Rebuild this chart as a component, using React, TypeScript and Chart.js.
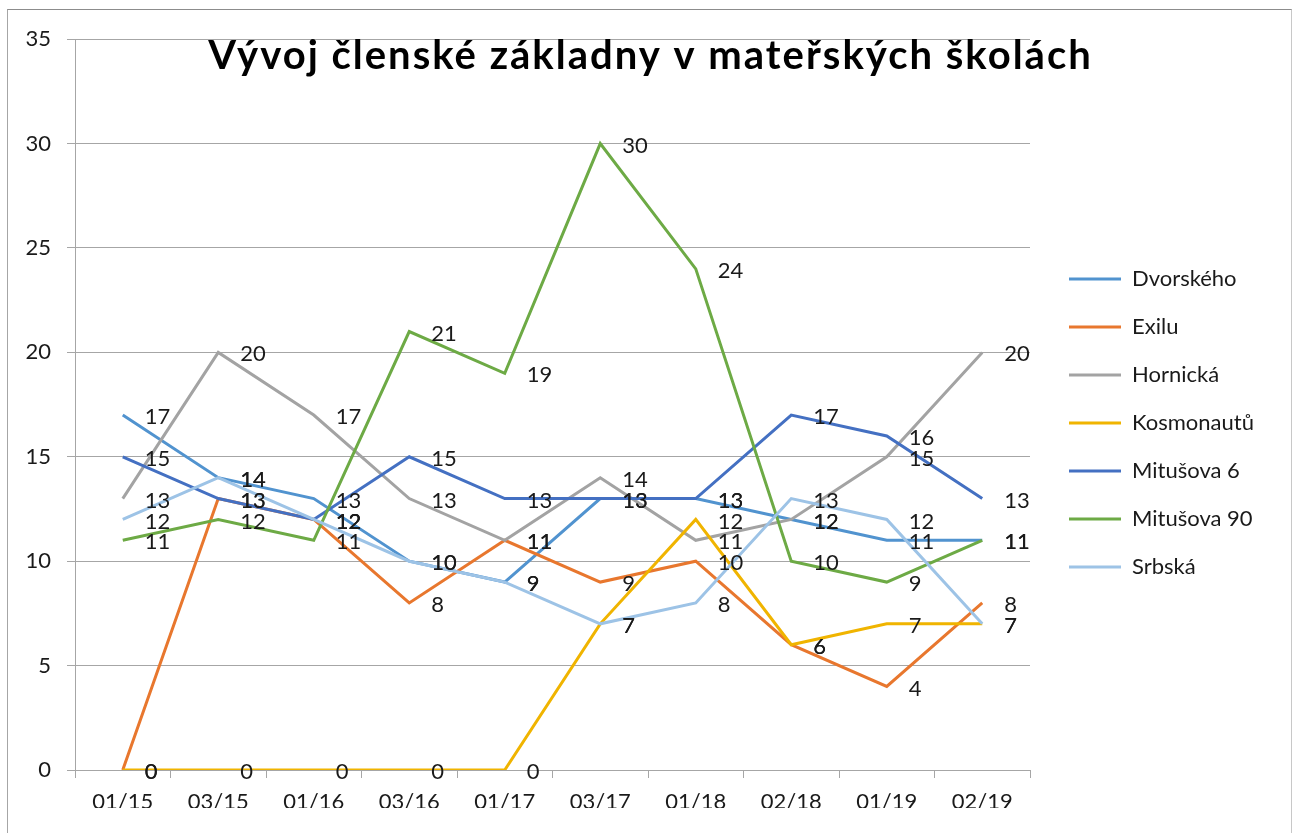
import React, { useEffect, useRef } from "react";
import { Chart, registerables } from "chart.js";

Chart.register(...registerables);

const categories = ["01/15", "03/15", "01/16", "03/16", "01/17", "03/17", "01/18", "02/18", "01/19", "02/19"];
const seriesNames = ["Dvorského", "Exilu", "Hornická", "Kosmonautů", "Mitušova 6", "Mitušova 90", "Srbská"];
const dvorskeho = [17, 14, 13, 10, 9, 13, 13, 12, 11, 11];
const exilu = [0, 13, 12, 8, 11, 9, 10, 6, 4, 8];
const hornicka = [13, 20, 17, 13, 11, 14, 11, 12, 15, 20];
const kosmonautu = [0, 0, 0, 0, 0, 7, 12, 6, 7, 7];
const mitusova6 = [15, 13, 12, 15, 13, 13, 13, 17, 16, 13];
const mitusova90 = [11, 12, 11, 21, 19, 30, 24, 10, 9, 11];
const srbska = [12, 14, 12, 10, 9, 7, 8, 13, 12, 7];
const seriesColors = ["#5193CF", "#E8772E", "#A3A3A3", "#F0B400", "#4470C2", "#6DAA45", "#9DC3E6"];
const yTicks = [0, 5, 10, 15, 20, 25, 30, 35];
const titleText = "Vývoj členské základny v mateřských školách";

const FONT = "Lato, 'Open Sans', sans-serif";
const LABEL_SIZE = 22;
const W = 1283;
const H = 823;

export default function App() {
  const ref = useRef<HTMLCanvasElement | null>(null);

  useEffect(() => {
    const canvas = ref.current;
    if (!canvas) return;
    const values = [dvorskeho, exilu, hornicka, kosmonautu, mitusova6, mitusova90, srbska];

    // measure the widest legend text so the legend box has a fixed width
    const mctx = document.createElement("canvas").getContext("2d")!;
    mctx.font = `${LABEL_SIZE}px ${FONT}`;
    const maxText = Math.max(...seriesNames.map((n) => mctx.measureText(n).width));
    const legendPad = 26;
    const legendWidth = Math.ceil(legendPad + 52 + LABEL_SIZE / 2 + maxText + 4);
    const plotRight = 1022;
    const gapBox = 13;
    const rightPad = Math.max(0, W - plotRight - gapBox - legendWidth);

    const labelPlugin = {
      id: "valueLabels",
      afterDatasetsDraw(chart: any) {
        const ctx = chart.ctx;
        ctx.save();
        ctx.font = `${LABEL_SIZE}px ${FONT}`;
        ctx.fillStyle = "#1a1a1a";
        ctx.textAlign = "left";
        ctx.textBaseline = "middle";
        chart.data.datasets.forEach((ds: any, i: number) => {
          const meta = chart.getDatasetMeta(i);
          meta.data.forEach((el: any, j: number) => {
            ctx.fillText(String(ds.data[j]), el.x + 22, el.y + 2);
          });
        });
        ctx.restore();
      },
    };

    const titlePlugin = {
      id: "overlayTitle",
      afterDraw(chart: any) {
        const ctx = chart.ctx;
        ctx.save();
        ctx.font = `bold 40px ${FONT}`;
        try {
          (ctx as any).letterSpacing = "2px";
        } catch (e) {}
        ctx.fillStyle = "#000";
        ctx.textAlign = "center";
        ctx.textBaseline = "alphabetic";
        ctx.fillText(titleText, chart.width / 2 + 1, 59);
        ctx.restore();
      },
    };

    const chart = new Chart(canvas, {
      type: "line",
      data: {
        labels: categories,
        datasets: seriesNames.map((name, i) => ({
          label: name,
          data: values[i],
          borderColor: seriesColors[i],
          backgroundColor: seriesColors[i],
          borderWidth: 3,
          pointRadius: 0,
          tension: 0,
          fill: false,
          order: 10 - i,
        })),
      },
      options: {
        animation: false,
        responsive: false,
        devicePixelRatio: 1,
        layout: { padding: { top: 28, left: 0, right: rightPad, bottom: 25 } },
        plugins: {
          title: { display: false },
          tooltip: { enabled: false },
          legend: {
            position: "right",
            align: "center",
            maxWidth: legendWidth,
            labels: {
              usePointStyle: true,
              pointStyle: "line",
              pointStyleWidth: 52,
              padding: legendPad,
              color: "#1a1a1a",
              font: { family: FONT, size: LABEL_SIZE },
              sort: (a: any, b: any) => a.datasetIndex - b.datasetIndex,
            },
          },
        },
        scales: {
          x: {
            type: "category",
            offset: true,
            grid: {
              display: true,
              drawOnChartArea: false,
              drawTicks: true,
              tickLength: 8,
              offset: true,
              color: "#A6A6A6",
            },
            border: { display: true, color: "#A6A6A6", width: 1 },
            ticks: {
              autoSkip: false,
              maxRotation: 0,
              padding: 11,
              color: "#1a1a1a",
              font: { family: FONT, size: LABEL_SIZE },
            },
            afterFit: (s: any) => {
              s.height = 38;
            },
          },
          y: {
            min: 0,
            max: 35,
            afterBuildTicks: (s: any) => {
              s.ticks = yTicks.map((v) => ({ value: v }));
            },
            grid: { color: "#A6A6A6", tickLength: 8, drawTicks: true },
            border: { display: true, color: "#A6A6A6", width: 1 },
            ticks: {
              padding: 16,
              color: "#1a1a1a",
              font: { family: FONT, size: LABEL_SIZE },
            },
            afterFit: (s: any) => {
              s.width = 67;
            },
          },
          y2: {
            type: "linear",
            position: "right",
            display: true,
            grid: { display: false, drawTicks: false },
            border: { display: false },
            ticks: { display: false },
            afterFit: (s: any) => {
              s.width = gapBox;
            },
          },
        },
      },
      plugins: [labelPlugin, titlePlugin],
    } as any);

    return () => chart.destroy();
  }, []);

  return (
    <div
      style={{
        position: "absolute",
        left: 7,
        top: 9,
        width: W,
        height: H,
        borderTop: "1px solid #8c8c8c",
        borderLeft: "1px solid #a6a6a6",
        borderRight: "1px solid #c8c8c8",
        background: "#fff",
      }}
    >
      <canvas ref={ref} width={W} height={H} style={{ display: "block", width: W, height: H }} />
    </div>
  );
}
